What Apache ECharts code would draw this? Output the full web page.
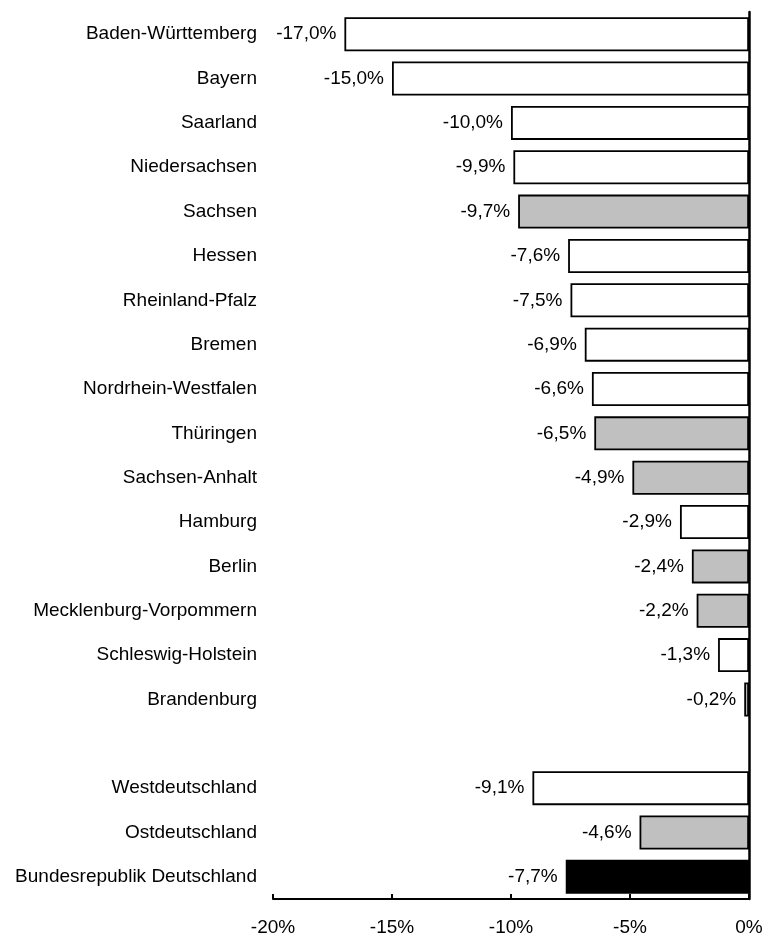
<!DOCTYPE html>
<html>
<head>
<meta charset="utf-8">
<script src="https://cdn.jsdelivr.net/npm/echarts@6/dist/echarts.min.js"></script>
<style>
    html, body { margin: 0; padding: 0; background: #fff; }
    #chart { width: 766px; height: 937px; }
</style>
</head>
<body>
<div id="chart"></div>
<script>
// Länder, leere Zeile als Abstand vor den Summen
var categories = ['Baden-Württemberg', 'Bayern', 'Saarland', 'Niedersachsen', 'Sachsen', 'Hessen',
    'Rheinland-Pfalz', 'Bremen', 'Nordrhein-Westfalen', 'Thüringen', 'Sachsen-Anhalt', 'Hamburg',
    'Berlin', 'Mecklenburg-Vorpommern', 'Schleswig-Holstein', 'Brandenburg', '',
    'Westdeutschland', 'Ostdeutschland', 'Bundesrepublik Deutschland'];
var values = [-17.0, -15.0, -10.0, -9.9, -9.7, -7.6, -7.5, -6.9, -6.6, -6.5, -4.9, -2.9,
    -2.4, -2.2, -1.3, -0.2, null, -9.1, -4.6, -7.7];
var groups = ['w', 'w', 'w', 'w', 'o', 'w', 'w', 'w', 'w', 'o', 'o', 'w',
    'o', 'o', 'w', 'o', '', 'w', 'o', 'b'];
var xTicks = [-20, -15, -10, -5, 0];

var fills = { w: '#ffffff', o: '#c0c0c0', b: '#000000' };
var font = 'Liberation Sans, Arial, sans-serif';

function fmt(v) {
    return v.toFixed(1).replace('.', ',') + '%';
}

var myChart = echarts.init(document.getElementById('chart'));
var option = {
    animation: false,
    grid: { left: 273, right: 17, top: 12, bottom: 38 },
    xAxis: {
        type: 'value',
        min: xTicks[0],
        max: xTicks[xTicks.length - 1],
        interval: 5,
        splitLine: { show: false },
        axisLine: { show: true, onZero: false, lineStyle: { color: '#000', width: 2 } },
        axisTick: { show: true, inside: true, length: 5, lineStyle: { color: '#000', width: 2 } },
        axisLabel: {
            margin: 19,
            color: '#000',
            fontFamily: font,
            fontSize: 19,
            formatter: function (v) { return v + '%'; }
        }
    },
    yAxis: [
        {
            type: 'category',
            inverse: true,
            position: 'left',
            data: categories,
            axisLine: { show: false },
            axisTick: { show: false },
            axisLabel: { margin: 16, color: '#000', fontFamily: font, fontSize: 19 }
        },
        {
            // Nulllinie
            type: 'category',
            inverse: true,
            position: 'right',
            data: categories,
            axisLine: { show: true, lineStyle: { color: '#000', width: 2.5 } },
            axisTick: { show: false },
            axisLabel: { show: false }
        }
    ],
    series: [
        {
            type: 'bar',
            barWidth: 34,
            data: values.map(function (v, i) {
                return {
                    value: v,
                    itemStyle: { color: fills[groups[i]] || '#fff' }
                };
            }),
            itemStyle: { borderColor: '#000', borderWidth: 1.8 },
            label: {
                show: true,
                position: 'left',
                distance: 8,
                color: '#000',
                fontFamily: font,
                fontSize: 19,
                formatter: function (p) { return p.value == null ? '' : fmt(p.value); }
            }
        }
    ]
};
myChart.setOption(option);
</script>
</body>
</html>
